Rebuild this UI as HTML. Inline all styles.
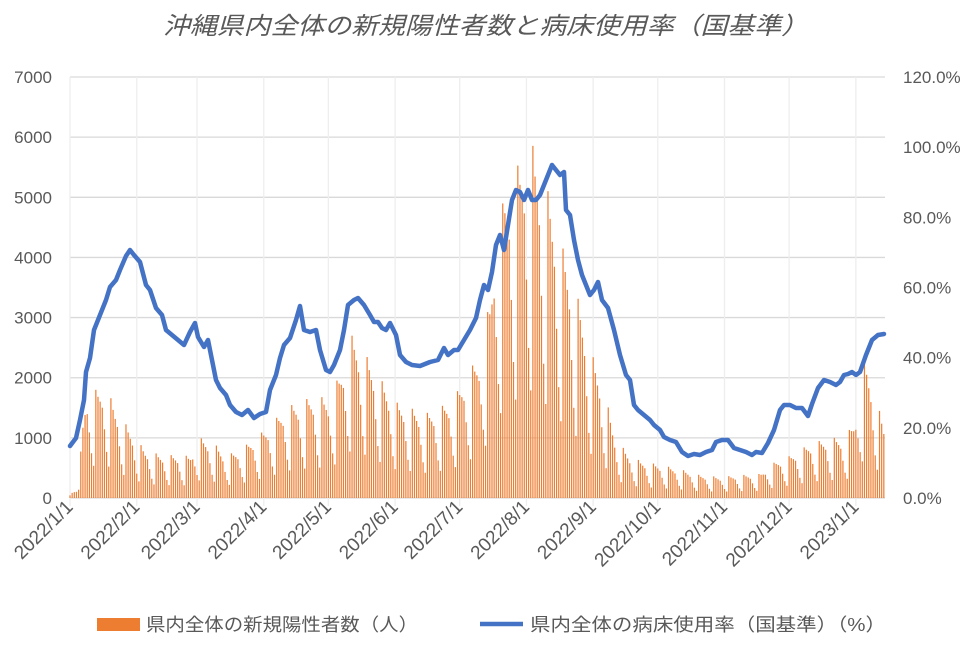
<!DOCTYPE html>
<html><head><meta charset="utf-8"><style>
html,body{margin:0;padding:0;background:#fff;}
svg{display:block;font-family:"Liberation Sans","Noto Sans CJK JP",sans-serif;}
</style></head><body>
<svg id="c" width="971" height="647" viewBox="0 0 971 647" xmlns="http://www.w3.org/2000/svg">
<rect width="971" height="647" fill="#fff"/>
<text x="163" y="34" textLength="645" lengthAdjust="spacingAndGlyphs" font-size="24" font-style="italic" fill="#595959">沖縄県内全体の新規陽性者数と病床使用率（国基準）</text>
<g id="grid"></g>
<g id="bars"></g>
<polyline id="line" fill="none" stroke="#4472c4" stroke-width="4.5" stroke-linejoin="round" stroke-linecap="round"/>
<g id="labels" font-size="17" fill="#595959"></g>
<rect x="97" y="618" width="43" height="13" fill="#ed7d31"/>
<text x="146" y="631" font-size="18" textLength="272" lengthAdjust="spacingAndGlyphs" fill="#595959">県内全体の新規陽性者数（人）</text>
<line x1="480" y1="624" x2="523" y2="624" stroke="#4472c4" stroke-width="4.5"/>
<text x="530" y="631" font-size="18" textLength="356" lengthAdjust="spacingAndGlyphs" fill="#595959">県内全体の病床使用率（国基準）（%）</text>
</svg>
<script>
var ns="http://www.w3.org/2000/svg";
function el(p,t,a,txt){var e=document.createElementNS(ns,t);for(var k in a)e.setAttribute(k,a[k]);if(txt!=null)e.textContent=txt;p.appendChild(e);return e;}
var G=document.getElementById('grid'),B=document.getElementById('bars'),L=document.getElementById('labels');
var X0=70,PX=2.153,Y0=498,YS=60.14/1000;
var mdays=[0,31,59,90,120,151,181,212,243,273,304,334,365];
var mlab=["2022/1/1","2022/2/1","2022/3/1","2022/4/1","2022/5/1","2022/6/1","2022/7/1","2022/8/1","2022/9/1","2022/10/1","2022/11/1","2022/12/1","2023/1/1"];
for(var i=0;i<=7;i++){var y=Y0-i*1000*YS;
 el(G,'line',{x1:X0,x2:885,y1:y,y2:y,stroke:'#d9d9d9','stroke-width':1.3});
 el(L,'text',{x:52,y:y+6,'text-anchor':'end'},String(i*1000));}
for(var i=0;i<=6;i++){var y=Y0-i*421/6;
 el(L,'text',{x:903,y:y+6},(i*20).toFixed(1)+'%');}
for(var i=0;i<mdays.length;i++){var x=X0+mdays[i]*PX;
 el(G,'line',{x1:x,x2:x,y1:77,y2:506,stroke:'#eeeeee','stroke-width':1.3});
 el(L,'text',{x:x+4,y:508,'text-anchor':'end','font-size':19,transform:'rotate(-45 '+(x+4)+' 508)'},mlab[i]);}
var env=[[70,50],[76,200],[80,600],[84,1500],[88,1750],[96,1800],[106,1850],[115,1500],[125,1250],[135,1000],[145,800],[160,720],[190,700],[200,1000],[215,900],[225,700],[240,800],[255,1000],[270,1200],[285,1500],[300,1600],[315,1700],[330,1650],[345,2300],[352,2700],[365,2400],[380,2000],[395,1600],[410,1500],[425,1400],[440,1500],[455,1700],[465,2000],[480,2400],[490,3300],[495,4200],[505,5100],[520,5600],[530,6000],[540,5500],[550,5000],[560,4300],[570,3800],[580,3200],[590,2500],[600,2000],[607,1600],[615,1000],[630,700],[640,620],[660,550],[680,480],[700,380],[720,350],[740,380],[760,400],[775,600],[790,700],[810,900],[830,1000],[845,1000],[855,1300],[865,2300],[875,1700],[884,1200]];
function interp(a,x){if(x<=a[0][0])return a[0][1];for(var i=1;i<a.length;i++){if(x<=a[i][0]){var t=(x-a[i-1][0])/(a[i][0]-a[i-1][0]);return a[i-1][1]+t*(a[i][1]-a[i-1][1]);}}return a[a.length-1][1];}
var wk=[1,0.93,0.88,0.82,0.62,0.42,0.3];
for(var d=0;d<=378;d++){var x=X0+d*PX;var v=interp(env,x)*wk[(d+2)%7];
 el(B,'rect',{x:(x-0.6).toFixed(2),y:(Y0-v*YS).toFixed(2),width:1.2,height:(v*YS).toFixed(2),fill:'#ed7d31'});}
var lp=[[70,446],[76,438],[80,420],[84,400],[86,372],[90,358],[94,330],[98,320],[102,310],[106,300],[110,287],[116,280],[120,270],[126,256],[130,250],[134,255],[140,262],[146,285],[150,290],[156,308],[162,315],[166,330],[172,335],[178,340],[184,345],[190,332],[195,323],[198,337],[204,347],[208,340],[212,360],[216,380],[220,388],[226,395],[230,405],[236,412],[242,415],[248,410],[254,418],[260,414],[266,412],[270,390],[276,375],[280,358],[284,345],[290,338],[296,320],[300,306],[304,330],[310,332],[316,330],[320,350],[326,370],[330,372],[334,365],[340,350],[344,330],[348,305],[354,300],[358,298],[364,305],[370,315],[374,322],[378,322],[382,328],[386,330],[390,323],[396,335],[400,355],[406,362],[412,365],[420,366],[430,362],[438,360],[444,348],[448,355],[454,350],[458,350],[464,340],[470,330],[476,318],[480,300],[484,285],[488,290],[492,272],[496,245],[500,235],[504,250],[508,225],[512,200],[516,190],[520,192],[524,200],[528,190],[532,200],[536,200],[540,195],[544,185],[548,175],[552,165],[556,170],[560,175],[564,172],[566,210],[570,215],[574,240],[578,260],[582,275],[586,285],[590,295],[594,290],[598,282],[602,300],[608,308],[614,330],[620,355],[626,375],[630,380],[634,405],[638,410],[644,415],[650,420],[654,425],[660,430],[664,437],[670,440],[676,442],[682,452],[688,456],[694,454],[700,455],[706,452],[712,450],[716,442],[722,440],[728,440],[734,448],[740,450],[746,452],[752,455],[756,452],[762,453],[768,443],[774,430],[780,410],[784,405],[790,405],[796,408],[802,408],[808,416],[812,404],[818,388],[824,380],[830,382],[836,385],[840,382],[844,375],[848,374],[852,372],[856,375],[860,372],[866,355],[872,340],[878,335],[884,334]];
document.getElementById('line').setAttribute('points',lp.map(function(p){return p.join(',');}).join(' '));
</script>
</body></html>
